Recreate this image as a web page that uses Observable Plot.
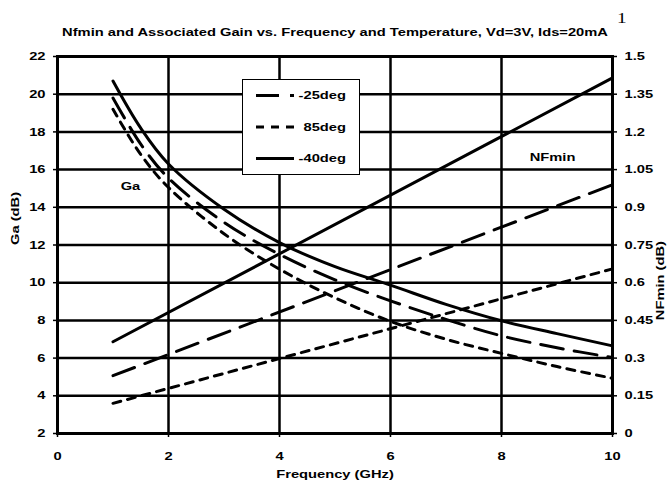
<!DOCTYPE html>
<html><head><meta charset="utf-8">
<script src="https://cdn.jsdelivr.net/npm/d3@7"></script>
<script src="https://cdn.jsdelivr.net/npm/@observablehq/plot@0.6"></script>
<style>
body{margin:0;background:#fff;}
#wrap{position:relative;width:669px;height:490px;overflow:hidden;font-family:"Liberation Sans",Arial,sans-serif;}
#legend{position:absolute;left:242px;top:79px;width:118px;height:96px;border:1px solid #000;background:#fff;box-sizing:border-box;}
#legend svg{position:absolute;left:0;top:0;}
</style></head><body><div id="wrap"></div>
<script>
// Frequency points (GHz)
const freq = [1, 1.5, 2, 3, 4, 5, 6, 7, 8, 9, 10];
// Associated gain Ga (dB)
const gaM40 = [20.7, 18.2, 16.3, 13.9, 12.13, 10.85, 9.87, 8.85, 7.98, 7.3, 6.65];
const gaM25 = [19.8, 17.35, 15.55, 13.2, 11.5, 10.15, 9.04, 8.05, 7.18, 6.55, 6.03];
const ga85  = [19.2, 16.8, 15.05, 12.6, 10.72, 9.2, 7.95, 7.0, 6.25, 5.55, 4.93];
// NFmin (dB)
const nfFreq = [1, 10];
const nfM40 = [0.365, 1.415];
const nfM25 = [0.23, 0.99];
const nf85  = [0.12, 0.655];
// ticks
const xTicks = [0, 2, 4, 6, 8, 10];
const gaTicks = [2, 4, 6, 8, 10, 12, 14, 16, 18, 20, 22];
const nfTicks = [0, 0.15, 0.3, 0.45, 0.6, 0.75, 0.9, 1.05, 1.2, 1.35, 1.5];
const seriesNames = ["-25deg", "85deg", "-40deg"];
const dashes = {"-25deg": "23,11", "85deg": "8,7", "-40deg": null};

// right axis (NFmin) maps linearly onto left axis (Ga): 0..1.5 -> 2..22
const nfToGa = nf => 2 + nf * (20 / 1.5);
const gaToNf = g => (g - 2) * (1.5 / 20);

const gaRows = [];
freq.forEach((f, i) => {
  gaRows.push({f, v: gaM25[i], s: "-25deg"});
  gaRows.push({f, v: ga85[i], s: "85deg"});
  gaRows.push({f, v: gaM40[i], s: "-40deg"});
});
const nfRows = [];
nfFreq.forEach((f, i) => {
  nfRows.push({f, v: nfToGa(nfM25[i]), s: "-25deg"});
  nfRows.push({f, v: nfToGa(nf85[i]), s: "85deg"});
  nfRows.push({f, v: nfToGa(nfM40[i]), s: "-40deg"});
});

const font = "Liberation Sans, Arial, sans-serif";
const FS = 11.5;      // font size
const STRETCH = 1.28; // the reference's lettering is wide
const lineMarks = [];
for (const s of seriesNames) {
  lineMarks.push(Plot.line(gaRows.filter(d => d.s === s), {x: "f", y: "v", stroke: "#000", strokeWidth: 3, strokeDasharray: dashes[s], curve: "catmull-rom"}));
  lineMarks.push(Plot.line(nfRows.filter(d => d.s === s), {x: "f", y: "v", stroke: "#000", strokeWidth: 3, strokeDasharray: dashes[s]}));
}

const chart = Plot.plot({
  width: 669,
  height: 490,
  marginLeft: 57,
  marginRight: 57,
  marginTop: 56,
  marginBottom: 57,
  style: {fontFamily: font, fontSize: FS + "px", fontWeight: "bold", color: "#000", background: "#fff", overflow: "visible"},
  x: {domain: [0, 10]},
  y: {domain: [2, 22]},
  marks: [
    Plot.gridX(xTicks, {stroke: "#000", strokeOpacity: 1, strokeWidth: 2.5}),
    Plot.gridY(gaTicks, {stroke: "#000", strokeOpacity: 1, strokeWidth: 2.5}),
    ...lineMarks,
    Plot.frame({stroke: "#000", strokeWidth: 3}),
    Plot.axisX(xTicks, {tickSize: 4, tickPadding: 14, strokeWidth: 1.5, label: null, fontWeight: "bold", fontSize: FS}),
    Plot.axisY(gaTicks, {anchor: "left", tickSize: 4, tickPadding: 8, strokeWidth: 1.5, label: null, fontWeight: "bold", fontSize: FS}),
    Plot.axisY(nfTicks.map(nfToGa), {anchor: "right", tickSize: 4, tickPadding: 8, strokeWidth: 1.5, label: null, fontWeight: "bold", fontSize: FS,
      tickFormat: g => String(+gaToNf(g).toFixed(2))}),
    Plot.text(["Nfmin and Associated Gain vs. Frequency and Temperature, Vd=3V, Ids=20mA"], {frameAnchor: "top", dy: -29, fontSize: FS, fontWeight: "bold"}),
    Plot.text(["1"], {frameAnchor: "top-right", dx: 14, dy: -44, fontSize: 15, fontWeight: "normal", fontFamily: "Liberation Serif, Times New Roman, serif"}),
    Plot.text(["Ga (dB)"], {frameAnchor: "left", dx: -42, rotate: -90, fontSize: FS, fontWeight: "bold"}),
    Plot.text(["NFmin (dB)"], {frameAnchor: "right", dx: 48, dy: -4, rotate: -90, fontSize: FS, fontWeight: "bold"}),
    Plot.text(["Frequency (GHz)"], {frameAnchor: "bottom", dy: 44, fontSize: FS, fontWeight: "bold"}),
    Plot.text([{x: 1.315, y: 15.09, t: "Ga"}, {x: 8.92, y: 16.67, t: "NFmin"}], {x: "x", y: "y", text: "t", fontSize: FS, fontWeight: "bold"})
  ]
});
const wrap = document.getElementById("wrap");
wrap.appendChild(chart);

// legend (drawn on top, as in the reference)
const legend = document.createElement("div");
legend.id = "legend";
const ns = "http://www.w3.org/2000/svg";
const lsvg = document.createElementNS(ns, "svg");
lsvg.setAttribute("width", 118); lsvg.setAttribute("height", 96);
seriesNames.forEach((s, i) => {
  const cy = 15.5 + i * 31.5;
  const ln = document.createElementNS(ns, "line");
  ln.setAttribute("x1", 13); ln.setAttribute("x2", 51);
  ln.setAttribute("y1", cy); ln.setAttribute("y2", cy);
  ln.setAttribute("stroke", "#000"); ln.setAttribute("stroke-width", 3);
  if (dashes[s]) ln.setAttribute("stroke-dasharray", dashes[s]);
  lsvg.appendChild(ln);
  const tx = document.createElementNS(ns, "text");
  tx.setAttribute("x", 103); tx.setAttribute("y", cy);
  tx.setAttribute("text-anchor", "end"); tx.setAttribute("dominant-baseline", "central");
  tx.setAttribute("font-family", font); tx.setAttribute("font-size", FS); tx.setAttribute("font-weight", "bold");
  tx.textContent = s;
  lsvg.appendChild(tx);
});
legend.appendChild(lsvg);
wrap.appendChild(legend);

// widen the lettering along its own baseline, keeping each anchor point fixed
function stretch(root, k) {
  root.querySelectorAll("text").forEach(t => {
    const x = t.getAttribute("x");
    let tr = t.getAttribute("transform") || "";
    if (x !== null && !/em/.test(x)) {
      tr += ` translate(${parseFloat(x)},0)`;
      t.removeAttribute("x");
    }
    tr += ` scale(${k},1)`;
    t.setAttribute("transform", tr.trim());
  });
}
stretch(chart, STRETCH);
stretch(lsvg, STRETCH);
</script>
</body></html>
